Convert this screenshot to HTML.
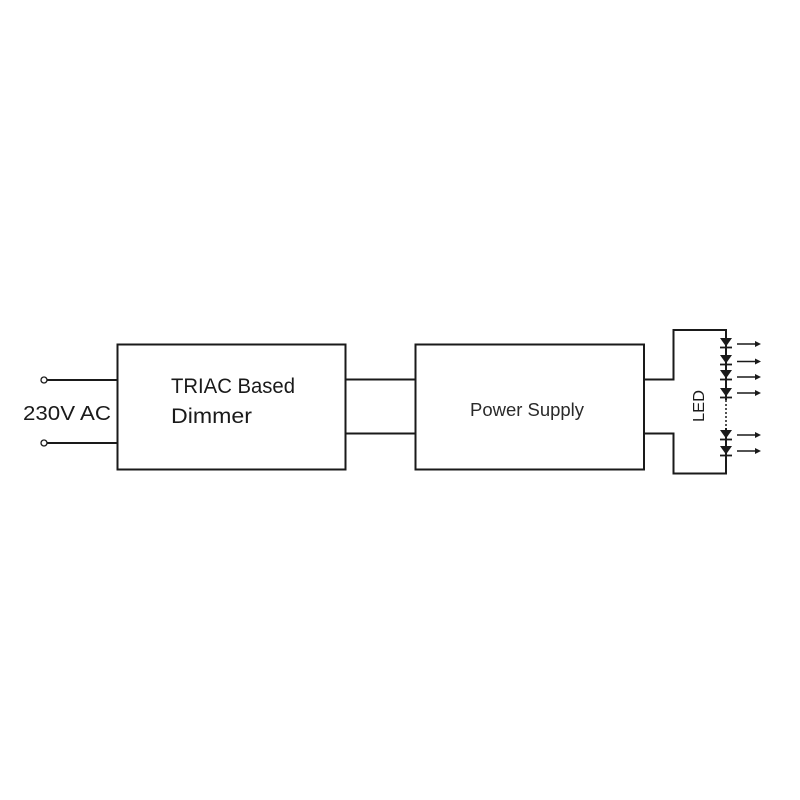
<!DOCTYPE html>
<html><head><meta charset="utf-8"><style>html,body{margin:0;padding:0;background:#fff}svg{display:block}</style></head>
<body>
<svg width="800" height="800" viewBox="0 0 800 800" xmlns="http://www.w3.org/2000/svg">
<rect width="800" height="800" fill="#fff"/>
<g stroke="#1a1a1a" stroke-width="2" fill="none">
  <circle cx="44" cy="380" r="3" stroke-width="1.3"/>
  <circle cx="44" cy="443" r="3" stroke-width="1.3"/>
  <line x1="47" y1="380" x2="117" y2="380"/>
  <line x1="47" y1="443" x2="117" y2="443"/>
  <rect x="117.5" y="344.5" width="228" height="125"/>
  <rect x="415.5" y="344.5" width="228.5" height="125"/>
  <line x1="346" y1="379.5" x2="415" y2="379.5"/>
  <line x1="346" y1="433.5" x2="415" y2="433.5"/>
  <polyline points="644,379.5 673.5,379.5 673.5,330 726,330 726,338"/>
  <polyline points="644,433.5 673.5,433.5 673.5,473.5 726,473.5 726,455"/>
  <line x1="726" y1="338" x2="726" y2="400"/>
  <line x1="726" y1="400" x2="726" y2="430" stroke-dasharray="2,2" stroke-width="1.5"/>
  <line x1="726" y1="428" x2="726" y2="458"/>
</g>
<g fill="#1a1a1a" stroke="#1a1a1a">
  <polygon points="720,338 732,338 726,346.5" stroke="none"/><line x1="720" y1="347.5" x2="732" y2="347.5" stroke-width="1.8"/>
  <polygon points="720,355 732,355 726,363.5" stroke="none"/><line x1="720" y1="364.5" x2="732" y2="364.5" stroke-width="1.8"/>
  <polygon points="720,370 732,370 726,378.5" stroke="none"/><line x1="720" y1="379.5" x2="732" y2="379.5" stroke-width="1.8"/>
  <polygon points="720,388 732,388 726,396.5" stroke="none"/><line x1="720" y1="397.5" x2="732" y2="397.5" stroke-width="1.8"/>
  <polygon points="720,430 732,430 726,438.5" stroke="none"/><line x1="720" y1="439.5" x2="732" y2="439.5" stroke-width="1.8"/>
  <polygon points="720,446 732,446 726,454.5" stroke="none"/><line x1="720" y1="455.5" x2="732" y2="455.5" stroke-width="1.8"/>
</g>
<g stroke="#1a1a1a" stroke-width="1.6" fill="#1a1a1a">
  <line x1="737" y1="344" x2="756" y2="344"/><polygon points="755,341 761,344 755,347" stroke="none"/>
  <line x1="737" y1="361.5" x2="756" y2="361.5"/><polygon points="755,358.5 761,361.5 755,364.5" stroke="none"/>
  <line x1="737" y1="377" x2="756" y2="377"/><polygon points="755,374 761,377 755,380" stroke="none"/>
  <line x1="737" y1="393" x2="756" y2="393"/><polygon points="755,390 761,393 755,396" stroke="none"/>
  <line x1="737" y1="435" x2="756" y2="435"/><polygon points="755,432 761,435 755,438" stroke="none"/>
  <line x1="737" y1="451" x2="756" y2="451"/><polygon points="755,448 761,451 755,454" stroke="none"/>
</g>
<g font-family="'Liberation Sans', 'DejaVu Sans', sans-serif" fill="#1a1a1a">
  <text x="23" y="420" font-size="20" textLength="88" lengthAdjust="spacingAndGlyphs">230V AC</text>
  <text x="171" y="393" font-size="21" textLength="124" lengthAdjust="spacingAndGlyphs">TRIAC Based</text>
  <text x="171" y="423" font-size="21" textLength="81" lengthAdjust="spacingAndGlyphs">Dimmer</text>
  <text x="470" y="416" font-size="18" fill="#2a2a2a" textLength="114" lengthAdjust="spacingAndGlyphs">Power Supply</text>
  <text transform="translate(704,422) rotate(-90)" font-size="16" textLength="32" lengthAdjust="spacingAndGlyphs">LED</text>
</g>
</svg>
</body></html>
